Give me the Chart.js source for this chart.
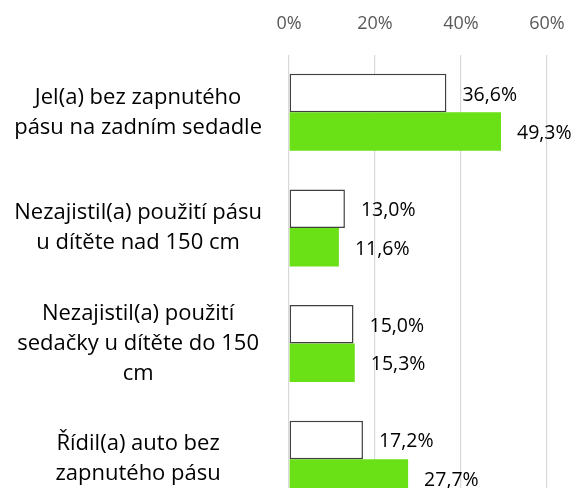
<!DOCTYPE html>
<html>
<head>
<meta charset="utf-8">
<script src="https://cdn.jsdelivr.net/npm/chart.js@4"></script>
<style>
  html, body { margin: 0; padding: 0; background: #fff; overflow: hidden; }
  canvas { display: block; }
</style>
</head>
<body>
<canvas id="chart" width="577" height="522"></canvas>
<script>
// Chart data
const categories = [
    ['Jel(a) bez zapnutého', 'pásu na zadním sedadle'],
    ['Nezajistil(a) použití pásu', 'u dítěte nad 150 cm'],
    ['Nezajistil(a) použití', 'sedačky u dítěte do 150', 'cm'],
    ['Řídil(a) auto bez', 'zapnutého pásu']
];
const seriesA = [36.6, 13.0, 15.0, 17.2];
const seriesB = [49.3, 11.6, 15.3, 27.7];
const xTicks = [0, 20, 40, 60];

const fmt = v => v.toFixed(1).replace('.', ',') + '%';

// draws value labels to the right of each bar
const valueLabels = {
    id: 'valueLabels',
    afterDatasetsDraw(chart) {
        const ctx = chart.ctx;
        ctx.save();
        ctx.font = '19.5px "Open Sans", sans-serif';
        ctx.fillStyle = '#000';
        ctx.textBaseline = 'middle';
        chart.data.datasets.forEach((ds, i) => {
            chart.getDatasetMeta(i).data.forEach((bar, j) => {
                ctx.fillText(fmt(ds.data[j]), bar.x + 16, bar.y + 2);
            });
        });
        ctx.restore();
    }
};

new Chart(document.getElementById('chart'), {
    type: 'bar',
    data: {
        labels: categories,
        datasets: [
            {
                data: seriesA,
                backgroundColor: '#ffffff',
                borderColor: '#404040',
                borderWidth: 1.5,
                borderSkipped: false,
                barPercentage: 1,
                categoryPercentage: 0.667
            },
            {
                data: seriesB,
                backgroundColor: '#6ae016',
                borderWidth: 0,
                barPercentage: 1,
                categoryPercentage: 0.667
            }
        ]
    },
    options: {
        indexAxis: 'y',
        responsive: false,
        animation: false,
        layout: { autoPadding: false, padding: { top: 12, right: 30, bottom: 5, left: 0 } },
        scales: {
            x: {
                position: 'top',
                min: 0,
                max: 60,
                afterBuildTicks: axis => { axis.ticks = xTicks.map(v => ({ value: v })); },
                afterFit: axis => {
                    axis.paddingLeft = 0;
                    axis.paddingRight = 0;
                    axis.height = 42.5;
                },
                grid: { color: '#d9d9d9', lineWidth: 1.2, drawTicks: false },
                border: { display: false },
                ticks: {
                    color: '#595959',
                    padding: 20,
                    font: { family: 'Open Sans', size: 18 },
                    callback: v => v + '%'
                }
            },
            y: {
                grid: { display: false },
                border: { display: false },
                afterFit: axis => {
                    axis.width = 289;
                    axis.paddingTop = 0;
                    axis.paddingBottom = 0;
                },
                ticks: {
                    color: '#000',
                    crossAlign: 'center',
                    padding: 19,
                    font: { family: 'Open Sans', size: 22, lineHeight: 1.36 }
                }
            }
        },
        plugins: {
            legend: { display: false },
            tooltip: { enabled: false }
        }
    },
    plugins: [valueLabels]
});
</script>
</body>
</html>
